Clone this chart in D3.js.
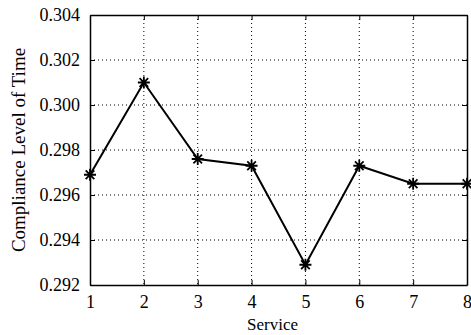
<!DOCTYPE html>
<html><head><meta charset="utf-8">
<script src="https://cdn.jsdelivr.net/npm/d3@7/dist/d3.min.js"></script>
<style>body{margin:0;background:#fff}svg text{font-family:"Liberation Serif","Times New Roman",Times,"DejaVu Serif",serif}</style>
</head><body><svg id="c" width="471" height="335"></svg>
<script>
const services = [1,2,3,4,5,6,7,8];
const compliance = [0.2969,0.3010,0.2976,0.2973,0.2929,0.2973,0.2965,0.2965];
const yTicks = [0.292,0.294,0.296,0.298,0.300,0.302,0.304];
const xTicks = [1,2,3,4,5,6,7,8];
const xLabel = "Service";
const yLabel = "Compliance Level of Time";

const svg = d3.select("#c");
const L=90,R=467,T=15,B=285;
const x = d3.scaleLinear().domain([1,8]).range([L,R]);
const y = d3.scaleLinear().domain([0.292,0.304]).range([B,T]);
const FF = '"Liberation Serif","Times New Roman",Times,serif';

// grid
const g = svg.append("g");
g.selectAll("line.gx").data(xTicks.slice(1,-1)).join("line")
 .attr("x1",d=>x(d)).attr("x2",d=>x(d)).attr("y1",T).attr("y2",B)
 .attr("stroke","#000").attr("stroke-width",1).attr("stroke-dasharray","1,3");
g.selectAll("line.gy").data(yTicks.slice(1,-1)).join("line")
 .attr("y1",d=>y(d)).attr("y2",d=>y(d)).attr("x1",L).attr("x2",R)
 .attr("stroke","#000").attr("stroke-width",1).attr("stroke-dasharray","1,3");

// axes
const ax = d3.axisBottom(x).tickValues(xTicks).tickFormat(d3.format("d")).tickSizeInner(-5).tickSizeOuter(0).tickPadding(10);
const ay = d3.axisLeft(y).tickValues(yTicks).tickFormat(d3.format(".3f")).tickSizeInner(-5).tickSizeOuter(0).tickPadding(10);
const axT = d3.axisTop(x).tickValues(xTicks).tickFormat("").tickSizeInner(-5).tickSizeOuter(0);
const ayR = d3.axisRight(y).tickValues(yTicks).tickFormat("").tickSizeInner(-5).tickSizeOuter(0);
function style(sel){sel.attr("font-family",FF).attr("font-size",18);sel.selectAll("text").attr("fill","#000");sel.selectAll("line").attr("stroke","#000");sel.select(".domain").attr("stroke","#000").attr("stroke-width",1.5);}
svg.append("g").attr("transform",`translate(0,${B})`).call(ax).call(style);
svg.append("g").attr("transform",`translate(${L},0)`).call(ay).call(style);
svg.append("g").attr("transform",`translate(0,${T})`).call(axT).call(style);
svg.append("g").attr("transform",`translate(${R},0)`).call(ayR).call(style);

// line
const data = services.map((s,i)=>({s,v:compliance[i]}));
svg.append("path").datum(data)
 .attr("d",d3.line().x(d=>x(d.s)).y(d=>y(d.v)))
 .attr("fill","none").attr("stroke","#000").attr("stroke-width",2);

// star markers
const r=6, r2=4.3;
const mk = svg.append("g").selectAll("g").data(data).join("g")
 .attr("transform",d=>`translate(${x(d.s)},${y(d.v)})`);
mk.append("path")
 .attr("d",`M${-r},0L${r},0M0,${-r}L0,${r}M${-r2},${-r2}L${r2},${r2}M${-r2},${r2}L${r2},${-r2}`)
 .attr("stroke","#000").attr("stroke-width",1.8).attr("fill","none");

svg.append("text").attr("x",(L+R)/2 - 6).attr("y",330).attr("text-anchor","middle")
 .attr("font-family",FF).attr("font-size",17).text(xLabel);
svg.append("text").attr("transform",`translate(25,${(T+B)/2}) rotate(-90)`).attr("text-anchor","middle")
 .attr("font-family",FF).attr("font-size",19).text(yLabel);
</script></body></html>
